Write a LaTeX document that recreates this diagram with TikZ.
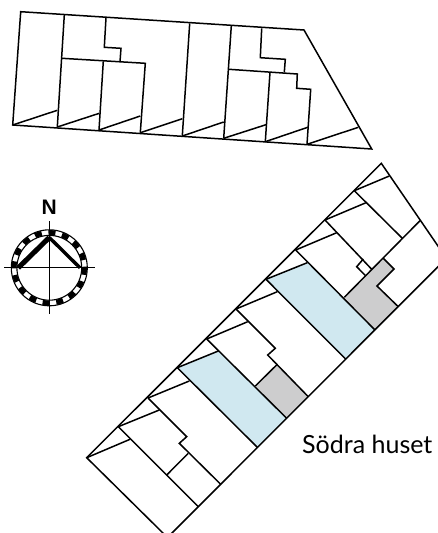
\documentclass[tikz,border=0pt]{standalone}
\usepackage{fontspec}
\setmainfont{Lato}
\newfontfamily\compassfont{Liberation Sans}
\usepackage{xcolor}
\usetikzlibrary{positioning}
\definecolor{roomblue}{HTML}{D0E8F0}
\definecolor{roomgray}{HTML}{CDCDCE}

\begin{document}
\begin{tikzpicture}[
  x=1pt, y=-1pt,
  wall/.style={line width=1.5pt, line join=miter, black},
  bluefill/.style={fill=roomblue, draw=none},
  grayfill/.style={fill=roomgray, draw=none},
  ring/.style={line width=1.1pt, black},
  hair/.style={line width=1pt, black},
  signlabel/.style={font=\fontsize{25}{28}\selectfont, anchor=base west, inner sep=0pt},
]
\useasboundingbox (0,0) rectangle (438,533);
\clip (0,0) rectangle (438,533);

% === Upper building ===
\draw[wall] (20.7,11.7) -- (304,30) -- (371.7,149) -- (12.7,125) -- cycle;
\draw[wall] (64.3,15) -- (57.3,127);
\draw[wall] (62,58.3) -- (145.3,63.3) -- (140.3,132.7);
\draw[wall] (106,17.7) -- (104.3,47.3) -- (121,48.3) -- (120,61.7);
\draw[wall] (103.3,61.3) -- (99,130);
\draw[wall] (189.7,23.3) -- (182.3,136);
\draw[wall] (231.3,26) -- (223.7,138.3);
\draw[wall] (229,69.3) -- (297.3,74) -- (296.7,88.3) -- (310.7,89.3) -- (307,144.3);
\draw[wall] (261.7,28.3) -- (260.3,57.7) -- (285.3,59.3) -- (284.3,72.3);
\draw[wall] (270,72.3) -- (265.3,141.7);

% === Upper building, slanted ticks ===
\foreach \xa/\ya/\xb/\yb in {12.7/125/57.3/110.3, 57.3/127/99.3/113.3, 99/130/140.3/116,
    140.3/132.7/182.3/118.7, 182.3/136/223.7/122, 223.7/138.3/266/124.7,
    265.3/141.7/307.7/127.3, 307/144.3/358.3/127.3} {
  \draw[wall] (\xa,\ya) -- (\xb,\yb);
}

% === Lower building, fills ===
\fill[bluefill] (177.3,367.7) -- (218.3,351) -- (286.7,418.3) -- (257.5,447.5) -- cycle;
\fill[bluefill] (266,279.3) -- (307.3,262.7) -- (375,330) -- (345.8,359.2) -- cycle;
\fill[grayfill] (255.3,386) -- (277.3,364.3) -- (308.3,396.7) -- (286.7,418.3) -- cycle;
\fill[grayfill] (344.3,297.3) -- (383.3,258.3) -- (394,269) -- (377,286) -- (398.3,306.7) -- (375,330) -- cycle;

% === Lower building, outline ===
\draw[wall] (381.3,163.3) -- (446.4,258.3) -- (167.5,537.5) -- (86.7,457.7) -- cycle;

% === Lower building, cross walls ===
\draw[wall] (118.3,426.7) -- (198.3,506.7);
\draw[wall] (148,398) -- (186.7,436.7) -- (179.3,443.3) -- (220.7,484.3);
\draw[wall] (188.3,453.3) -- (166.7,475);
\draw[wall] (177.3,367.7) -- (257.5,447.5);
\draw[wall] (206.7,339) -- (286.7,418.3);
\draw[wall] (255.3,386) -- (277.3,364.3);
\draw[wall] (236,309) -- (275.3,348.3) -- (267.7,355) -- (308.3,396.7);
\draw[wall] (266,279.3) -- (345.8,359.2);
\draw[wall] (295.7,250) -- (375,330);
\draw[wall] (344.3,297.3) -- (420,220.7);
\draw[wall] (325,220) -- (372,269.6);
\draw[wall] (363.3,259) -- (356.7,266.7) -- (365.7,275.9);
\draw[wall] (354.3,190.7) -- (402.3,238.3);
\draw[wall] (383.3,258.3) -- (394,269) -- (377,286) -- (398.3,306.7);

% === Lower building, slanted ticks ===
\foreach \xa/\ya/\xb/\yb in {86.7/457.7/130/439.3, 118.3/426.7/159.3/410, 148/398/189.3/381,
    177.3/367.7/218.3/351, 206.7/339/247.7/321.7, 236/309/277.3/291.7,
    266/279.3/307.3/262.7, 295.7/250/336.7/232.7, 325/220/366/202.7, 354.3/190.7/389.3/176} {
  \draw[wall] (\xa,\ya) -- (\xb,\yb);
}

% === Compass ===
\draw[line width=5pt, dash pattern=on 7pt off 6.75pt] (49.3,267.8) circle (35.2);
\draw[ring] (49.3,267.8) circle (38);
\draw[ring] (49.3,267.8) circle (32.4);
\draw[hair] (4,267.8) -- (95,267.8);
\draw[hair] (49.3,221) -- (49.3,314.3);
\draw[line width=5pt] (18.3,267.8) -- (49.3,237.5);
\draw[line width=3.4pt] (49.3,237.5) -- (80,267.8);
\node[font=\compassfont\bfseries\fontsize{21}{22}\selectfont, inner sep=0pt] (northmark) at (49.3,207.5) {N};

% === Label ===
\node[signlabel] (southhouse) at (302,453) {Södra huset};
\end{tikzpicture}
\end{document}
